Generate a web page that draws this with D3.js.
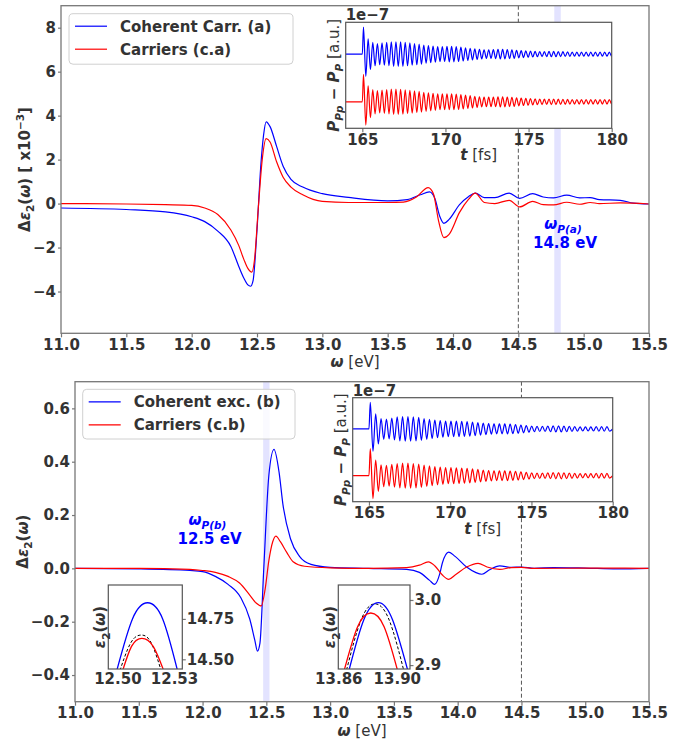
<!DOCTYPE html>
<html>
<head>
<meta charset="utf-8">
<script src="https://cdn.jsdelivr.net/npm/d3@7"></script>
<style>
body { margin: 0; background: #fff; }
svg { font-family: "DejaVu Sans", sans-serif; }
</style>
</head>
<body>
<div class="canva"></div>
<script>
// ---- values ----

// panel (a): delta eps2 in units of 1e-3, [omega (eV), value]
const coherentCarrA = [
  [11.0,-0.20],[11.5,-0.27],[11.8,-0.38],[12.0,-0.60],[12.1,-0.82],[12.2,-1.25],[12.3,-1.95],
  [12.36,-2.85],[12.4,-3.4],[12.43,-3.7],[12.45,-3.76],[12.47,-3.5],[12.5,-1.2],[12.53,1.8],
  [12.55,3.1],[12.57,3.72],[12.6,3.5],[12.65,2.6],[12.7,1.7],[12.76,1.1],[12.85,0.75],
  [13.0,0.45],[13.2,0.28],[13.5,0.12],[13.65,0.18],[13.75,0.4],[13.82,0.53],[13.86,0.25],
  [13.9,-0.6],[13.93,-0.9],[13.97,-0.72],[14.05,-0.05],[14.12,0.32],[14.17,0.48],[14.24,0.27],
  [14.32,0.27],[14.43,0.48],[14.51,0.24],[14.61,0.45],[14.69,0.3],[14.77,0.26],[14.87,0.38],
  [14.97,0.26],[15.05,0.27],[15.12,0.18],[15.28,0.15],[15.38,0.02],[15.5,-0.02]
];
const carriersA = [
  [11.0,0.0],[11.5,-0.02],[11.8,-0.05],[12.0,-0.08],[12.1,-0.2],[12.2,-0.5],[12.3,-1.2],
  [12.36,-1.9],[12.4,-2.55],[12.43,-2.95],[12.46,-3.12],[12.48,-2.6],[12.51,-0.2],[12.54,2.0],
  [12.57,2.95],[12.6,2.8],[12.65,1.9],[12.7,1.2],[12.76,0.75],[12.85,0.4],[13.0,0.1],
  [13.2,0.05],[13.5,0.05],[13.62,0.07],[13.72,0.3],[13.81,0.73],[13.85,0.45],[13.89,-0.8],
  [13.93,-1.55],[13.97,-1.4],[14.05,-0.4],[14.12,0.2],[14.17,0.48],[14.24,0.05],[14.32,0.0],
  [14.43,0.15],[14.51,-0.15],[14.61,0.1],[14.69,-0.05],[14.77,-0.06],[14.87,0.06],[14.97,-0.03],
  [15.05,0.05],[15.12,0.0],[15.28,0.03],[15.5,-0.02]
];

// panel (b): delta eps2, [omega (eV), value]
const coherentExcB = [
  [11.0,0.0],[11.5,-0.002],[11.9,-0.008],[12.0,-0.012],[12.1,-0.03],[12.2,-0.06],[12.3,-0.11],
  [12.37,-0.19],[12.41,-0.27],[12.43,-0.31],[12.45,-0.28],[12.48,0.0],[12.52,0.35],[12.56,0.446],
  [12.6,0.36],[12.63,0.24],[12.69,0.11],[12.76,0.045],[12.85,0.015],[13.0,0.004],[13.3,0.0],
  [13.6,-0.004],[13.7,-0.015],[13.78,-0.045],[13.82,-0.06],[13.86,-0.02],[13.88,0.02],[13.93,0.061],
  [13.98,0.045],[14.07,0.005],[14.14,-0.015],[14.19,-0.022],[14.25,-0.005],[14.33,0.009],
  [14.42,0.004],[14.5,0.005],[14.6,0.0],[14.75,0.003],[15.0,0.001],[15.25,-0.002],[15.5,0.0]
];
const carriersB = [
  [11.0,0.0],[11.5,0.0],[11.9,-0.004],[12.0,-0.008],[12.1,-0.015],[12.2,-0.03],[12.29,-0.055],
  [12.37,-0.1],[12.42,-0.13],[12.46,-0.141],[12.49,-0.08],[12.52,0.03],[12.55,0.1],[12.575,0.121],
  [12.61,0.1],[12.66,0.06],[12.71,0.025],[12.8,0.008],[13.0,0.002],[13.3,0.0],[13.6,0.003],
  [13.7,0.012],[13.77,0.024],[13.82,0.01],[13.88,-0.025],[13.93,-0.041],[13.98,-0.025],
  [14.07,0.005],[14.16,0.019],[14.23,0.005],[14.33,-0.004],[14.42,0.003],[14.5,0.004],
  [14.6,0.0],[15.0,0.001],[15.5,0.0]
];

const omegaTicks = [11.0, 11.5, 12.0, 12.5, 13.0, 13.5, 14.0, 14.5, 15.0, 15.5];
const yTicksA = [-4, -2, 0, 2, 4, 6, 8];
const yTicksB = [-0.4, -0.2, 0.0, 0.2, 0.4, 0.6];
const plasmonA = 14.8, plasmonB = 12.5, probeOmega = 14.5;
const legendA = ['Coherent Carr. (a)', 'Carriers (c.a)'];
const legendB = ['Coherent exc. (b)', 'Carriers (c.b)'];

// time insets: amplitude of each oscillation cycle (units of 1e-7), first cycle = spike
const pulseStart = 165.0;
const periodA = 0.279, periodB = 0.331;
const firstDipA = [0.42, 0.44], firstDipB = [0.43, 0.44];
const ampBlueA = [0.51,0.29,0.22,0.2,0.21,0.22,0.23,0.23,0.23,0.22,0.21,0.2,0.19,0.17,0.16,0.15,0.14,0.14,
  0.145,0.145,0.14,0.13,0.12,0.11,0.1,0.09,0.08,0.08,0.085,0.09,0.09,0.085,0.08,0.07,0.065,0.06,0.055,
  0.05,0.048,0.048,0.05,0.05,0.048,0.045,0.042,0.04,0.04,0.04,0.04,0.04,0.04,0.04,0.04,0.04];
const ampRedA = [0.52,0.3,0.23,0.21,0.22,0.23,0.24,0.24,0.235,0.225,0.215,0.205,0.195,0.18,0.17,0.16,0.15,
  0.15,0.15,0.15,0.145,0.135,0.125,0.115,0.105,0.095,0.09,0.09,0.09,0.095,0.095,0.09,0.085,0.075,0.07,
  0.065,0.06,0.055,0.052,0.05,0.052,0.052,0.05,0.048,0.045,0.042,0.042,0.042,0.042,0.042,0.042,0.042,0.042,0.042];
const ampBlueB = [0.51,0.29,0.2,0.19,0.21,0.23,0.235,0.235,0.23,0.22,0.2,0.185,0.17,0.16,0.15,0.15,0.15,
  0.145,0.14,0.13,0.12,0.11,0.1,0.095,0.095,0.095,0.09,0.085,0.075,0.065,0.055,0.05,0.05,0.055,0.06,
  0.06,0.055,0.05,0.045,0.04,0.04,0.04,0.045,0.045,0.045];
const ampRedB = [0.52,0.3,0.21,0.2,0.22,0.235,0.24,0.24,0.235,0.225,0.205,0.19,0.175,0.165,0.155,0.155,
  0.15,0.145,0.14,0.13,0.12,0.11,0.1,0.095,0.095,0.095,0.09,0.085,0.075,0.065,0.055,0.05,0.05,0.055,
  0.06,0.06,0.055,0.05,0.045,0.04,0.04,0.04,0.045,0.045,0.045];
const insetOffsets = [0.4, -0.5];
const timeTicks = [165, 170, 175, 180];

// zoomed peaks in panel (b): eps2, [omega, value]
const zoomBlue1 = [[12.4990,14.40],[12.508,14.75],[12.516,14.85],[12.524,14.75],[12.5325,14.40]];
const zoomRed1 = [[12.5020,14.40],[12.5075,14.58],[12.513,14.63],[12.519,14.58],[12.5255,14.40]];
const zoomGround1 = [[12.5005,14.40],[12.507,14.60],[12.5127,14.65],[12.518,14.60],[12.524,14.40]];
const zoomBlue2 = [[13.8665,2.885],[13.8775,2.970],[13.8874,2.996],[13.897,2.970],[13.9083,2.885]];
const zoomRed2 = [[13.8632,2.885],[13.8732,2.959],[13.8822,2.980],[13.8913,2.959],[13.9013,2.885]];
const zoomGround2 = [[13.8648,2.885],[13.8755,2.969],[13.8851,2.994],[13.8948,2.969],[13.9055,2.885]];

// ---- drawing ----
const BLUE = '#0000ff', RED = '#ff0000', SPINE = '#777', TXT = '#333';
const svg = d3.select('.canva').append('svg').attr('width', 697).attr('height', 741);

function styleAxis(g) {
  g.attr('font-family', 'DejaVu Sans').attr('font-size', 15).attr('font-weight', 'bold');
  g.select('.domain').remove();
  g.selectAll('.tick line').attr('stroke', SPINE).attr('stroke-width', 1.2);
  g.selectAll('.tick text').attr('fill', TXT);
}

// mathtext-like label made of tspans
function richText(parent, x, y, parts, size, opt) {
  opt = opt || {};
  const t = parent.append('text').attr('font-size', size)
    .attr('fill', opt.color || TXT).attr('text-anchor', opt.anchor || 'middle');
  if (opt.rotate) t.attr('transform', `translate(${x},${y}) rotate(-90)`);
  else t.attr('x', x).attr('y', y);
  let shift = 0;
  parts.forEach(p => {
    const target = p.sub ? size * 0.28 : p.sup ? -size * 0.42 : 0;
    const ts = t.append('tspan').text(p.t)
      .attr('font-weight', p.light ? 'normal' : 'bold')
      .attr('font-style', p.it ? 'italic' : 'normal')
      .attr('dy', target - shift);
    if (p.sub || p.sup) ts.attr('font-size', size * 0.7);
    shift = target;
  });
  return t;
}

let clipId = 0;
function clipRect(b) {
  const id = 'clip' + (clipId++);
  svg.append('clipPath').attr('id', id).append('rect')
    .attr('x', b.left).attr('y', b.top).attr('width', b.right - b.left).attr('height', b.bottom - b.top);
  return `url(#${id})`;
}

function mainPanel(c) {
  const x = d3.scaleLinear().domain([11.0, 15.5]).range([c.left, c.right]);
  const y = d3.scaleLinear().domain(c.yDomain).range([c.bottom, c.top]);
  const g = svg.append('g');

  g.append('rect').attr('x', x(c.plasmon - 0.025)).attr('width', x(c.plasmon + 0.025) - x(c.plasmon - 0.025))
    .attr('y', c.top).attr('height', c.bottom - c.top).attr('fill', BLUE).attr('fill-opacity', 0.11);
  g.append('line').attr('x1', x(probeOmega)).attr('x2', x(probeOmega)).attr('y1', c.top).attr('y2', c.bottom)
    .attr('stroke', '#555').attr('stroke-width', 1).attr('stroke-dasharray', '4,2.5');

  const line = d3.line().x(d => x(d[0])).y(d => y(d[1])).curve(d3.curveMonotoneX);
  g.append('path').datum(c.blue).attr('d', line).attr('fill', 'none').attr('stroke', BLUE).attr('stroke-width', 1.2);
  g.append('path').datum(c.red).attr('d', line).attr('fill', 'none').attr('stroke', RED).attr('stroke-width', 1.2);

  g.append('g').attr('transform', `translate(0,${c.bottom})`)
    .call(d3.axisBottom(x).tickValues(omegaTicks).tickFormat(d3.format('.1f')).tickSize(4).tickPadding(2))
    .call(styleAxis);
  g.append('g').attr('transform', `translate(${c.left},0)`)
    .call(d3.axisLeft(y).tickValues(c.yTicks).tickFormat(c.yFormat).tickSize(3).tickPadding(2))
    .call(styleAxis);

  g.append('rect').attr('x', c.left).attr('y', c.top).attr('width', c.right - c.left).attr('height', c.bottom - c.top)
    .attr('fill', 'none').attr('stroke', SPINE).attr('stroke-width', 1.3);

  // legend
  const L = c.legend;
  g.append('rect').attr('x', L.x).attr('y', L.y).attr('width', L.w).attr('height', L.h).attr('rx', 4)
    .attr('fill', '#fff').attr('fill-opacity', 0.8).attr('stroke', '#d0d0d0');
  [BLUE, RED].forEach((col, i) => {
    const ly = L.y + 12.5 + i * 23;
    g.append('line').attr('x1', L.x + 6).attr('x2', L.x + 38).attr('y1', ly).attr('y2', ly)
      .attr('stroke', col).attr('stroke-width', 1.2);
    g.append('text').attr('x', L.x + 51).attr('y', ly).attr('dy', '0.36em').attr('font-size', 15)
      .attr('font-weight', 'bold').attr('fill', TXT).text(c.labels[i]);
  });

  richText(g, (c.left + c.right) / 2, c.bottom + 34, [{ t: 'ω', it: true }, { t: ' [eV]', light: true }], 15);
  richText(g, c.ylabelX, (c.top + c.bottom) / 2, c.ylabel, 15, { rotate: true });

  const a = c.note;
  richText(g, a.x, a.y, [{ t: 'ω', it: true }, { t: a.sub, it: true, sub: true }], 15, { color: BLUE });
  richText(g, a.x + 2, a.y + 19, [{ t: a.text }], 15, { color: BLUE });
  return { x, y };
}

function oscillation(amps, dip, period, base) {
  const pts = [[164, base], [pulseStart, base]];
  amps.forEach((a, i) => {
    const t0 = pulseStart + i * period;
    pts.push([t0 + period * 0.25, base + a]);
    pts.push([t0 + period * 0.75, base - (i === 0 ? dip : a)]);
  });
  pts.push([180, base]);
  return pts;
}

function timeInset(b, ampB, ampR, dips, period) {
  const x = d3.scaleLinear().domain([164, 180]).range([b.left, b.right]);
  const y = d3.scaleLinear().domain([-1, 1]).range([b.bottom, b.top]);
  const g = svg.append('g');
  g.append('rect').attr('x', b.left).attr('y', b.top).attr('width', b.right - b.left).attr('height', b.bottom - b.top)
    .attr('fill', '#fff');
  const clip = clipRect(b);
  const line = d3.line().x(d => x(d[0])).y(d => y(d[1])).curve(d3.curveMonotoneX);
  g.append('path').datum(oscillation(ampB, dips[0], period, insetOffsets[0])).attr('d', line)
    .attr('clip-path', clip).attr('fill', 'none').attr('stroke', BLUE).attr('stroke-width', 1.2);
  g.append('path').datum(oscillation(ampR, dips[1], period, insetOffsets[1])).attr('d', line)
    .attr('clip-path', clip).attr('fill', 'none').attr('stroke', RED).attr('stroke-width', 1.2);
  g.append('g').attr('transform', `translate(0,${b.bottom})`)
    .call(d3.axisBottom(x).tickValues(timeTicks).tickFormat(d3.format('d')).tickSize(4).tickPadding(2))
    .call(styleAxis);
  g.append('rect').attr('x', b.left).attr('y', b.top).attr('width', b.right - b.left).attr('height', b.bottom - b.top)
    .attr('fill', 'none').attr('stroke', '#555').attr('stroke-width', 1.2);
  g.append('text').attr('x', b.left).attr('y', b.top - 2).attr('font-size', 15).attr('font-weight', 'bold')
    .attr('fill', TXT).text('1e\u22127');
  richText(g, (b.left + b.right) / 2, b.bottom + 32, [{ t: 't', it: true }, { t: ' [fs]', light: true }], 15);
  richText(g, b.left - 7, (b.top + b.bottom) / 2, [
    { t: 'P', it: true }, { t: 'Pp', it: true, sub: true }, { t: ' \u2212 ' }, { t: 'P', it: true },
    { t: 'P', it: true, sub: true }, { t: ' [a.u.]', light: true }], 15, { rotate: true });
}

function peakInset(b, xd, yd, xt, yt, fx, fy, curves) {
  const x = d3.scaleLinear().domain(xd).range([b.left, b.right]);
  const y = d3.scaleLinear().domain(yd).range([b.bottom, b.top]);
  const g = svg.append('g');
  g.append('rect').attr('x', b.left).attr('y', b.top).attr('width', b.right - b.left).attr('height', b.bottom - b.top)
    .attr('fill', '#fff');
  const clip = clipRect(b);
  const line = d3.line().x(d => x(d[0])).y(d => y(d[1])).curve(d3.curveNatural);
  curves.forEach(cv => {
    g.append('path').datum(cv.data).attr('d', line).attr('clip-path', clip).attr('fill', 'none')
      .attr('stroke', cv.color).attr('stroke-width', cv.dash ? 1 : 1.3)
      .attr('stroke-dasharray', cv.dash ? '3,2' : null);
  });
  g.append('g').attr('transform', `translate(0,${b.bottom})`)
    .call(d3.axisBottom(x).tickValues(xt).tickFormat(fx).tickSize(0).tickPadding(4))
    .call(styleAxis);
  g.append('g').attr('transform', `translate(${b.right},0)`)
    .call(d3.axisRight(y).tickValues(yt).tickFormat(fy).tickSize(3.5).tickPadding(1))
    .call(styleAxis);
  g.append('rect').attr('x', b.left).attr('y', b.top).attr('width', b.right - b.left).attr('height', b.bottom - b.top)
    .attr('fill', 'none').attr('stroke', '#555').attr('stroke-width', 1.2);
  richText(g, b.left - 3, (b.top + b.bottom) / 2, [
    { t: 'ε', it: true }, { t: '2', sub: true }, { t: '(' }, { t: 'ω', it: true }, { t: ')' }], 15, { rotate: true });
}

// panel (a)
mainPanel({
  left: 61, right: 649, top: 5.7, bottom: 333.3, yDomain: [-5.9, 9.0], yTicks: yTicksA,
  yFormat: d3.format('d'), plasmon: plasmonA, blue: coherentCarrA, red: carriersA,
  legend: { x: 69, y: 13.7, w: 224, h: 50.5 }, labels: legendA, ylabelX: 30,
  ylabel: [{ t: 'Δ' }, { t: 'ε', it: true }, { t: '2', sub: true }, { t: '(' }, { t: 'ω', it: true },
    { t: ') [ x10' }, { t: '\u22123', sup: true }, { t: ']' }],
  note: { x: 563, y: 229, sub: 'P(a)', text: '14.8 eV' }
});
timeInset({ left: 345.7, right: 611.7, top: 22.3, bottom: 128.3 }, ampBlueA, ampRedA, firstDipA, periodA);

// panel (b)
mainPanel({
  left: 75, right: 649, top: 381.7, bottom: 701.7, yDomain: [-0.5, 0.7], yTicks: yTicksB,
  yFormat: d3.format('.1f'), plasmon: plasmonB, blue: coherentExcB, red: carriersB,
  legend: { x: 82.7, y: 389.3, w: 212.3, h: 49.7 }, labels: legendB, ylabelX: 28,
  ylabel: [{ t: 'Δ' }, { t: 'ε', it: true }, { t: '2', sub: true }, { t: '(' }, { t: 'ω', it: true }, { t: ')' }],
  note: { x: 207.5, y: 525, sub: 'P(b)', text: '12.5 eV' }
});
timeInset({ left: 352.7, right: 612.7, top: 397.7, bottom: 501.7 }, ampBlueB, ampRedB, firstDipB, periodB);

peakInset({ left: 108.3, right: 182.3, top: 585, bottom: 669 }, [12.4952, 12.5344], [14.44, 14.96],
  [12.50, 12.53], [14.50, 14.75], d3.format('.2f'), d3.format('.2f'),
  [{ data: zoomGround1, color: '#000', dash: true }, { data: zoomBlue1, color: BLUE }, { data: zoomRed1, color: RED }]);
peakInset({ left: 338.3, right: 410, top: 585, bottom: 669 }, [13.86, 13.909], [2.894, 3.023],
  [13.86, 13.90], [2.9, 3.0], d3.format('.2f'), d3.format('.1f'),
  [{ data: zoomGround2, color: '#000', dash: true }, { data: zoomBlue2, color: BLUE }, { data: zoomRed2, color: RED }]);
</script>
</body>
</html>
